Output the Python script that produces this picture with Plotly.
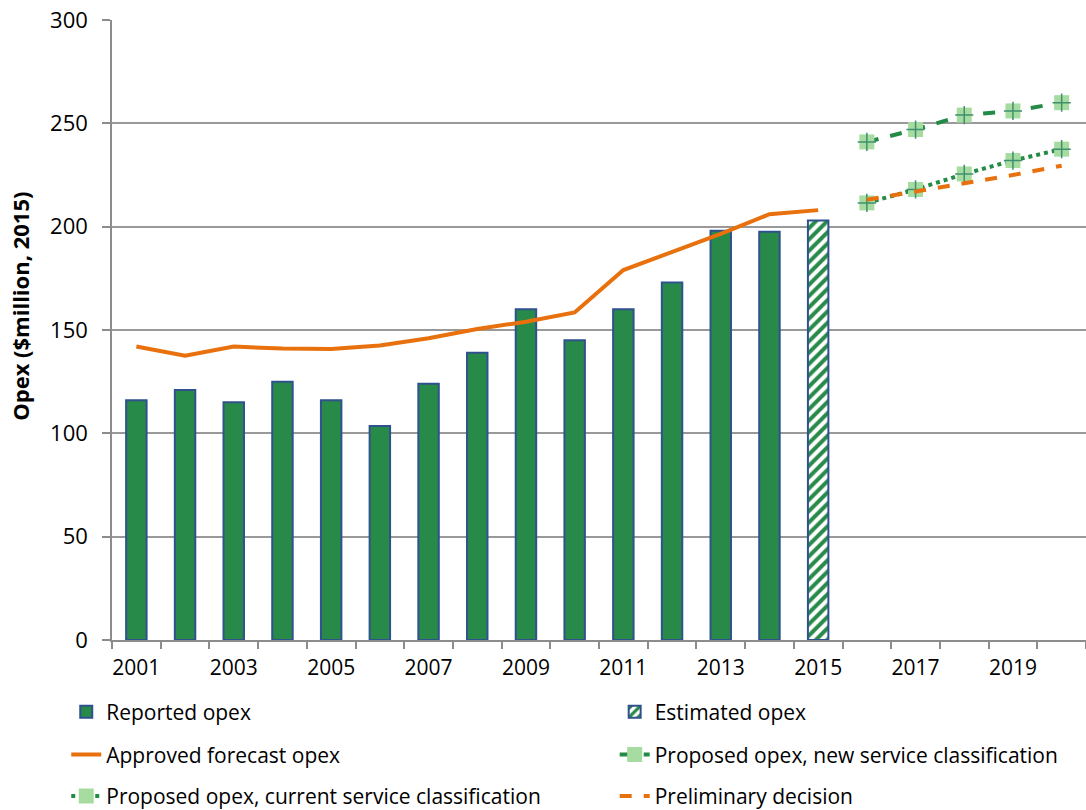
import plotly.graph_objects as go

years = list(range(2001, 2021))
reported_years = list(range(2001, 2015))
reported_opex = [116, 121, 115, 125, 116, 103.5, 124, 139, 160, 145, 160, 173, 198, 197.5]
estimated_years = [2015]
estimated_opex = [203]
approved_years = list(range(2001, 2016))
approved_opex = [142, 137.5, 142, 141, 140.8, 142.5, 146, 150.5, 154, 158.5, 179, 187.5, 196.5, 206, 208]
forecast_years = [2016, 2017, 2018, 2019, 2020]
proposed_new = [241, 247, 254, 256, 260]
proposed_current = [211.5, 218, 225.5, 232, 237.5]
preliminary = [213, 217, 221, 225, 229.5]
tick_years = [2001, 2003, 2005, 2007, 2009, 2011, 2013, 2015, 2017, 2019]

GREEN = "#288a48"
DARKGREEN = "#238b45"
BLUE = "#2f528f"
ORANGE = "#e8710d"
LIGHT = "#a6dca0"
CROSS = "#3f8f70"
AXIS = "#8c8c8c"
FONT = "Open Sans"

fig = go.Figure()

fig.add_trace(go.Bar(
    x=reported_years, y=reported_opex, name="Reported opex", width=0.42,
    marker=dict(color=GREEN, line=dict(color=BLUE, width=2)),
    legend="legend",
))
fig.add_trace(go.Bar(
    x=estimated_years, y=estimated_opex, name="Estimated opex", width=0.42,
    marker=dict(color="white", line=dict(color=BLUE, width=2),
                pattern=dict(shape="/", fgcolor=GREEN, bgcolor="white", size=8,
                             solidity=0.5, fgopacity=1)),
    legend="legend2",
))
fig.add_trace(go.Scatter(
    x=approved_years, y=approved_opex, name="Approved forecast opex", mode="lines",
    line=dict(color=ORANGE, width=4), legend="legend3",
))
fig.add_trace(go.Scatter(
    x=forecast_years, y=proposed_new, name="Proposed opex, new service classification",
    mode="lines+markers", line=dict(color=DARKGREEN, width=4, dash="dash"),
    marker=dict(symbol="square", size=15, color=LIGHT, line=dict(width=0)),
    legend="legend4",
))
fig.add_trace(go.Scatter(
    x=forecast_years, y=proposed_new, mode="markers", showlegend=False, hoverinfo="skip",
    marker=dict(symbol="cross-thin", size=13, line=dict(color=CROSS, width=1.5)),
))
fig.add_trace(go.Scatter(
    x=forecast_years, y=proposed_current, name="Proposed opex, current service classification",
    mode="lines+markers", line=dict(color=DARKGREEN, width=4, dash="dot"),
    marker=dict(symbol="square", size=15, color=LIGHT, line=dict(width=0)),
    legend="legend5",
))
fig.add_trace(go.Scatter(
    x=forecast_years, y=proposed_current, mode="markers", showlegend=False, hoverinfo="skip",
    marker=dict(symbol="cross-thin", size=13, line=dict(color=CROSS, width=1.5)),
))
fig.add_trace(go.Scatter(
    x=forecast_years, y=preliminary, name="Preliminary decision", mode="lines",
    line=dict(color=ORANGE, width=4, dash="dash"), legend="legend6",
))

# legends placed in container coordinates so they do not push the margins
leg = dict(orientation="h", xanchor="left", yanchor="middle",
           xref="container", yref="container",
           font=dict(family=FONT, size=21, color="black"), bgcolor="rgba(0,0,0,0)")
col1, col2 = 0.061, 0.566
row1, row2, row3 = 0.121, 0.068, 0.017

fig.update_layout(
    width=1086, height=810,
    margin=dict(l=112, r=0, t=20, b=170),
    plot_bgcolor="white", paper_bgcolor="white",
    font=dict(family=FONT, size=20, color="black"),
    barmode="overlay",
    legend=dict(leg, x=col1, y=row1),
    legend2=dict(leg, x=col2, y=row1),
    legend3=dict(leg, x=col1, y=row2),
    legend4=dict(leg, x=col2, y=row2),
    legend5=dict(leg, x=col1, y=row3),
    legend6=dict(leg, x=col2, y=row3),
    xaxis=dict(
        range=[2000.5, 2020.5], tickmode="array", tickvals=tick_years,
        ticks="", showgrid=False, showline=True, linecolor=AXIS, linewidth=1.5,
        tickfont=dict(size=21), ticklabelstandoff=8,
        minor=dict(tick0=2000.5, dtick=1, ticks="outside", ticklen=7,
                   tickcolor=AXIS, tickwidth=1.5, showgrid=False),
    ),
    yaxis=dict(
        range=[0, 300], dtick=50, showgrid=True, gridcolor="#999999", gridwidth=1.5,
        showline=True, linecolor=AXIS, linewidth=1.5, zeroline=False,
        ticks="outside", ticklen=8, tickcolor=AXIS, tickwidth=1.5,
        tickfont=dict(size=22), ticklabelstandoff=10,
    ),
    annotations=[dict(
        text="<b>Opex ($million, 2015)</b>", textangle=-90, showarrow=False,
        xref="paper", yref="paper", x=-0.0945, y=0.539,
        xanchor="center", yanchor="middle", font=dict(size=22),
    )],
)

fig.write_html(
    "out.html",
    config={"displayModeBar": False},
    post_script="document.body.style.margin='0';document.body.style.overflow='hidden';",
)
